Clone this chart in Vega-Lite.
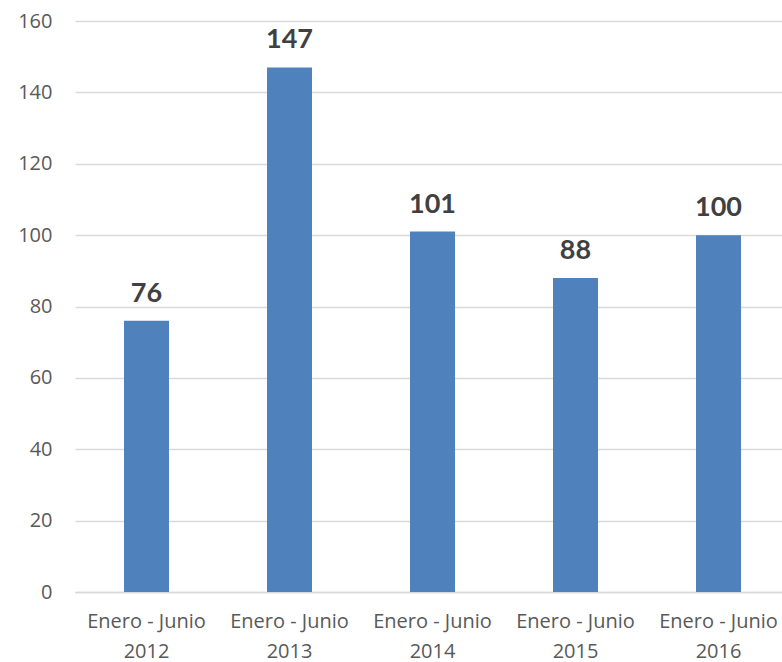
{
  "$schema": "https://vega.github.io/schema/vega-lite/v6.json",
  "autosize": "none",
  "padding": {"left": 75, "top": 21, "right": 0, "bottom": 70},
  "width": 715,
  "height": 571,
  "background": "white",
  "config": {"view": {"stroke": null}, "font": "Lato"},
  "data": {"values": [
    {"year": "2012", "value": 76},
    {"year": "2013", "value": 147},
    {"year": "2014", "value": 101},
    {"year": "2015", "value": 88},
    {"year": "2016", "value": 100}
  ]},
  "encoding": {
    "x": {"field": "year", "type": "nominal", "sort": null,
      "scale": {"paddingInner": 0, "paddingOuter": 0},
      "axis": {"title": null, "labelAngle": 0, "ticks": false, "domain": true, "domainColor": "#d9d9d9", "domainWidth": 1.3,
        "labelExpr": "['Enero - Junio', datum.value]", "labelFontSize": 20, "labelColor": "#595959",
        "labelPadding": 19, "labelLineHeight": 30, "labelFont": "Open Sans"}},
    "y": {"field": "value", "type": "quantitative",
      "scale": {"domain": [0, 160]},
      "axis": {"title": null, "values": [0,20,40,60,80,100,120,140,160], "domain": false, "ticks": false,
        "gridColor": "#d9d9d9", "gridWidth": 1.3, "labelFontSize": 20, "labelColor": "#595959",
        "labelPadding": 23, "labelFont": "Open Sans"}}
  },
  "layer": [
    {"mark": {"type": "bar", "size": 45, "color": "#4F81BD"}},
    {"mark": {"type": "text", "fontWeight": "bold", "fontSize": 27, "color": "#404040", "baseline": "bottom", "dy": -13, "font": "Lato"},
     "encoding": {"text": {"field": "value", "type": "quantitative"}}}
  ]
}
